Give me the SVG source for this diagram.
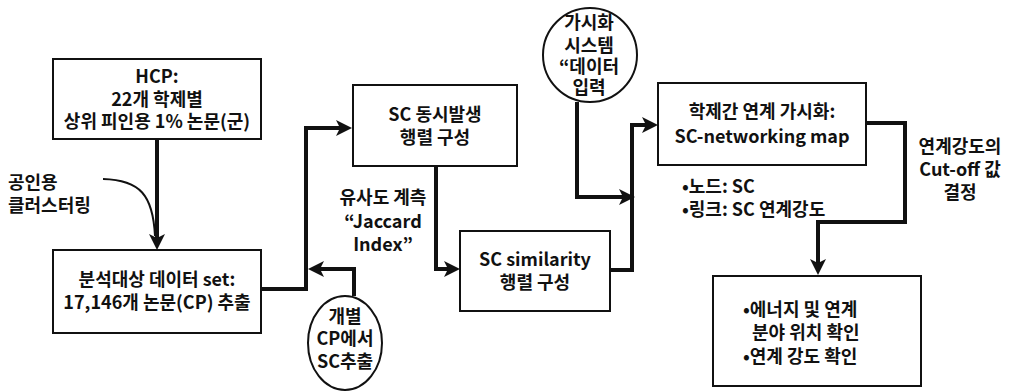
<svg xmlns="http://www.w3.org/2000/svg" width="1014" height="391" viewBox="0 0 1014 391">
<style>
.box{fill:#fff;stroke:#111;stroke-width:2}
.circ{fill:#fff;stroke:#111;stroke-width:2}
.t{font-family:"Noto Sans CJK KR","Noto Sans",sans-serif;font-weight:bold;font-size:18px;fill:#111}
.m{text-anchor:middle}
.c{fill:none;stroke:#111;stroke-width:4;stroke-linejoin:miter}
.thin{fill:none;stroke:#111;stroke-width:2}
</style>
<defs>
<marker id="arr" viewBox="0 0 16 16" refX="8" refY="8" markerWidth="16" markerHeight="16" orient="auto" markerUnits="userSpaceOnUse">
<path d="M0,0 L16,8 L0,16 L4,8 z" fill="#111"/>
</marker>
</defs>
<rect width="1014" height="391" fill="#fff"/>

<g id="connectors">
<path class="c" d="M157,139 V242" marker-end="url(#arr)"/>
<path class="thin" d="M103,179 C140,180 153,195 155,236"/>
<path class="c" d="M261,289 H306 V128 H344" marker-end="url(#arr)"/>
<path class="c" d="M354,296 V269 H316" marker-end="url(#arr)"/>
<path class="c" d="M436,166 V269 H452" marker-end="url(#arr)"/>
<path class="c" d="M610,270 H632 V125 H650" marker-end="url(#arr)"/>
<path class="c" d="M577,102 V197 H627" marker-end="url(#arr)"/>
<path class="c" d="M866,123 H905 V222 H818 V267" marker-end="url(#arr)"/>
</g>

<g id="hcp">
<rect class="box" x="53" y="59" width="208" height="80"/>
<text class="t m" x="157" y="83">HCP:</text>
<text class="t m" x="157" y="106">22개 학제별</text>
<text class="t m" x="157" y="128">상위 피인용 1% 논문(군)</text>
</g>

<g id="clustering">
<text class="t" x="8" y="189">공인용</text>
<text class="t" x="8" y="212">클러스터링</text>
</g>

<g id="dataset">
<rect class="box" x="53" y="250" width="208" height="83"/>
<text class="t m" x="157" y="286">분석대상 데이터 set:</text>
<text class="t m" x="157" y="309">17,146개 논문(CP) 추출</text>
</g>

<g id="cooccur">
<rect class="box" x="353" y="85" width="164" height="81"/>
<text class="t m" x="435" y="121">SC 동시발생</text>
<text class="t m" x="435" y="144">행렬 구성</text>
</g>

<g id="jaccard">
<text class="t m" x="383" y="204">유사도 계측</text>
<text class="t m" x="383" y="228">“Jaccard</text>
<text class="t m" x="383" y="251">Index”</text>
</g>

<g id="similarity">
<rect class="box" x="460" y="231" width="150" height="80"/>
<text class="t m" x="535" y="266">SC similarity</text>
<text class="t m" x="535" y="289">행렬 구성</text>
</g>

<g id="extract">
<ellipse class="circ" cx="345" cy="343" rx="37" ry="47"/>
<text class="t m" x="345" y="323">개별</text>
<text class="t m" x="345" y="345">CP에서</text>
<text class="t m" x="345" y="368">SC추출</text>
</g>

<g id="vissystem">
<circle class="circ" cx="590" cy="55" r="47"/>
<text class="t m" x="589" y="29">가시화</text>
<text class="t m" x="589" y="52">시스템</text>
<text class="t m" x="589" y="73">“데이터</text>
<text class="t m" x="589" y="94">입력</text>
</g>

<g id="scmap">
<rect class="box" x="658" y="83" width="208" height="82"/>
<text class="t m" x="762" y="118">학제간 연계 가시화:</text>
<text class="t m" x="762" y="143">SC-networking map</text>
</g>

<g id="legend">
<text class="t" x="682" y="193">•노드: SC</text>
<text class="t" x="682" y="216">•링크: SC 연계강도</text>
</g>

<g id="cutoff">
<text class="t m" x="960" y="153">연계강도의</text>
<text class="t m" x="960" y="176">Cut-off 값</text>
<text class="t m" x="960" y="199">결정</text>
</g>

<g id="result">
<rect class="box" x="713" y="276" width="208" height="110"/>
<text class="t" x="743" y="316">•에너지 및 연계</text>
<text class="t" x="752" y="339">분야 위치 확인</text>
<text class="t" x="743" y="363">•연계 강도 확인</text>
</g>
</svg>
